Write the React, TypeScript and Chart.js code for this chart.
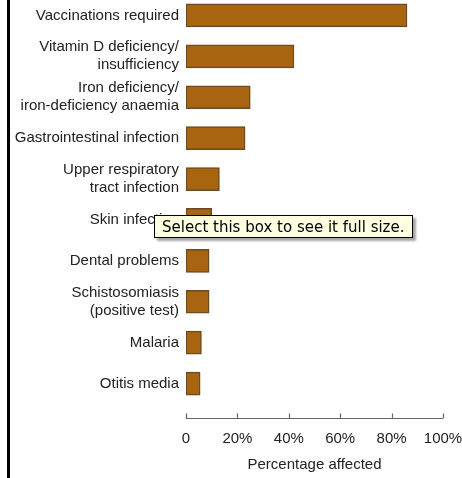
import React, { useEffect, useRef } from "react";
import { Chart, registerables } from "chart.js";

Chart.register(...registerables);

const categories: (string | string[])[] = [
  "Vaccinations required",
  ["Vitamin D deficiency/", "insufficiency"],
  ["Iron deficiency/", "iron-deficiency anaemia"],
  "Gastrointestinal infection",
  ["Upper respiratory", "tract infection"],
  "Skin infection",
  "Dental problems",
  ["Schistosomiasis", "(positive test)"],
  "Malaria",
  "Otitis media",
];
const percentAffected = [86, 42, 25, 23, 13, 10, 9, 9, 6, 5.5];
const xTicks = [0, 20, 40, 60, 80, 100];
const xTitle = "Percentage affected";
const tooltipText = "Select this box to see it full size.";

const axisPlugin = {
  id: "axisUnder",
  afterDraw(chart: any) {
    const { ctx, chartArea } = chart;
    const xs = chart.scales.x;
    const y = Math.round(chartArea.bottom + 14) + 0.5;
    ctx.save();
    ctx.strokeStyle = "#666";
    ctx.lineWidth = 1.2;
    ctx.beginPath();
    ctx.moveTo(xs.getPixelForValue(xTicks[0]), y);
    ctx.lineTo(xs.getPixelForValue(xTicks[xTicks.length - 1]), y);
    for (const t of xTicks) {
      const px = Math.round(xs.getPixelForValue(t)) + 0.5;
      ctx.moveTo(px, y);
      ctx.lineTo(px, y - 5);
    }
    ctx.stroke();
    ctx.restore();
  },
};

export default function App() {
  const ref = useRef<HTMLCanvasElement | null>(null);
  useEffect(() => {
    if (!ref.current) return;
    const chart = new Chart(ref.current, {
      type: "bar",
      data: {
        labels: categories,
        datasets: [
          {
            data: percentAffected,
            backgroundColor: "#A8640F",
            borderColor: "#6B4A22",
            borderWidth: 1.5,
            borderSkipped: false,
            barThickness: 23,
          },
        ],
      },
      options: {
        indexAxis: "y",
        animation: false,
        responsive: false,
        devicePixelRatio: 1,
        layout: { padding: { left: 0, right: 19, top: 0, bottom: 0 } },
        plugins: { legend: { display: false }, tooltip: { enabled: false } },
        scales: {
          y: {
            grid: { display: false, drawTicks: false },
            border: { display: false },
            ticks: {
              color: "#222",
              padding: 7,
              font: { family: "'Liberation Sans', Arial", size: 15, lineHeight: 1.2 },
            },
            afterFit: (s: any) => {
              s.width = 186;
              s.paddingTop = 0;
              s.paddingBottom = 0;
            },
          },
          x: {
            min: 0,
            max: 100,
            grid: { display: false, drawTicks: false },
            border: { display: false },
            afterBuildTicks: (s: any) => {
              s.ticks = xTicks.map((v) => ({ value: v }));
            },
            ticks: {
              color: "#222",
              padding: 26,
              font: { family: "'Liberation Sans', Arial", size: 15 },
              callback: (v: any) => (Number(v) === 0 ? "0" : v + "%"),
            },
            title: {
              display: true,
              text: xTitle,
              color: "#222",
              font: { family: "'Liberation Sans', Arial", size: 15 },
              padding: { top: 0, bottom: 4 },
            },
            afterFit: (s: any) => {
              s.height = 74;
              s.paddingLeft = 0;
              s.paddingRight = 0;
            },
          },
        },
      },
      plugins: [axisPlugin],
    });
    return () => chart.destroy();
  }, []);

  return (
    <div style={{ position: "fixed", left: 0, top: 0, width: 462, height: 478, background: "#fff", overflow: "hidden" }}>
      <canvas ref={ref} width={462} height={483} style={{ position: "absolute", left: 0, top: -5, width: 462, height: 483 }} />
      <div style={{ position: "absolute", left: 7, top: 0, width: 2.5, height: 478, background: "#000" }} />
      <div
        style={{
          position: "absolute",
          left: 154,
          top: 215,
          width: 250,
          height: 21,
          background: "#FFFFE1",
          border: "1px solid #000",
          boxShadow: "3px 3px 2px rgba(0,0,0,0.35)",
          fontFamily: "'DejaVu Sans', Verdana, sans-serif",
          fontSize: 15,
          lineHeight: "23px",
          color: "#000",
          paddingLeft: 7,
          boxSizing: "content-box",
          whiteSpace: "nowrap",
          overflow: "hidden",
        }}
      >
        {tooltipText}
      </div>
    </div>
  );
}
